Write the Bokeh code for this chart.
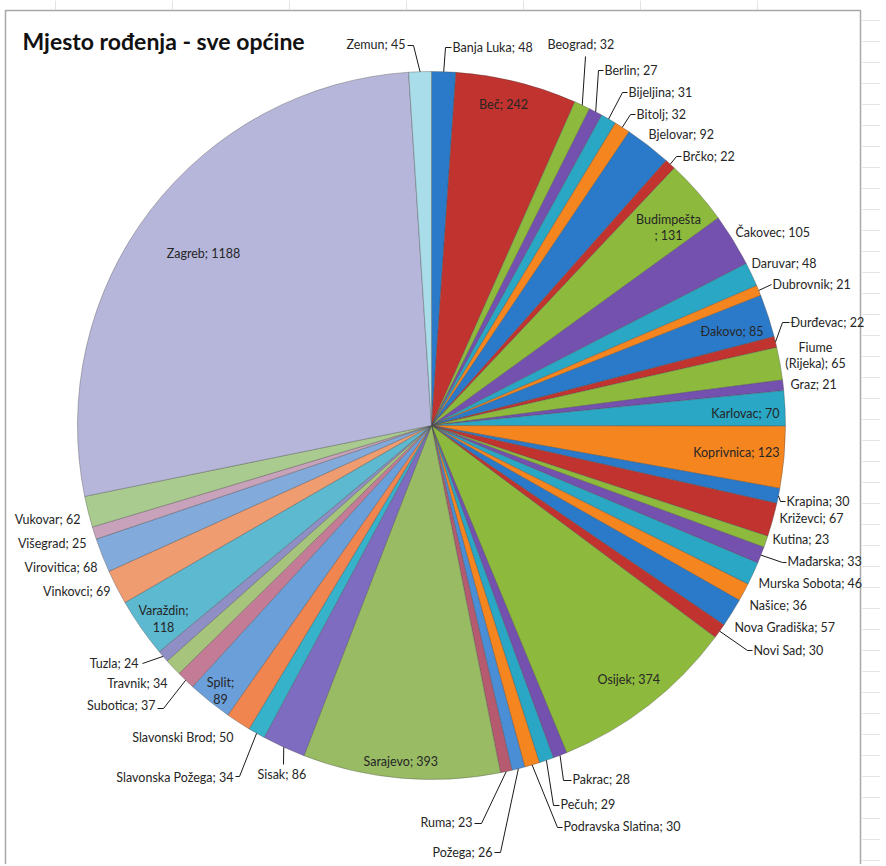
import math
from bokeh.plotting import figure
from bokeh.models import Range1d, ColumnDataSource
from bokeh.core.properties import value
from bokeh.embed import file_html
from bokeh.resources import INLINE

# ---------------- data ----------------
names = ["Banja Luka", "Beč", "Beograd", "Berlin", "Bijeljina", "Bitolj", "Bjelovar",
         "Brčko", "Budimpešta", "Čakovec", "Daruvar", "Dubrovnik", "Đakovo", "Đurđevac",
         "Fiume (Rijeka)", "Graz", "Karlovac", "Koprivnica", "Krapina", "Križevci", "Kutina",
         "Mađarska", "Murska Sobota", "Našice", "Nova Gradiška", "Novi Sad", "Osijek",
         "Pakrac", "Pečuh", "Podravska Slatina", "Požega", "Ruma", "Sarajevo", "Sisak",
         "Slavonska Požega", "Slavonski Brod", "Split", "Subotica", "Travnik", "Tuzla",
         "Varaždin", "Vinkovci", "Virovitica", "Višegrad", "Vukovar", "Zagreb", "Zemun"]
counts = [48, 242, 32, 27, 31, 32, 92,
          22, 131, 105, 48, 21, 85, 22,
          65, 21, 70, 123, 30, 67, 23,
          33, 46, 36, 57, 30, 374,
          28, 29, 30, 26, 23, 393, 86,
          34, 50, 89, 37, 34, 24,
          118, 69, 68, 25, 62, 1188, 45]
title_text = "Mjesto rođenja - sve općine"

# ---------------- styles ----------------
base = ["#2B7AC9", "#C0332F", "#8DBA3C", "#7451AE", "#29A7C5", "#F5851F"]
palette_groups = [
    base, base, base, base, base,
    ["#4A8ED6", "#B65A70", "#98BB64", "#7E6CC0", "#36B2CA", "#F08550"],
    ["#6B9FDA", "#C47C96", "#A7C47C", "#8F8FC6", "#5CB9D0", "#EE9C70"],
    ["#82AADA", "#C7A2BA", "#AACB90", "#B6B6DA", "#A9DDE9", "#F2B48E"],
]
colors = [palette_groups[i // 6][i % 6] for i in range(len(names))]

W, H = 880, 864


def sy(y):
    return H - y


CX, CY, R = 431, sy(425), 354

# label layout: name -> (x, y, align, split, leader points in screen coords)
layout = {
    "Zemun": (405, 44, "right", None, [(413, 45), (407, 45)]),
    "Banja Luka": (452, 47, "left", None, [(445, 47), (451, 47)]),
    "Beč": (503, 104, "center", None, None),
    "Beograd": (547, 44, "left", None, [(585, 56)]),
    "Berlin": (604, 70, "left", None, [(598, 70), (603, 70)]),
    "Bijeljina": (628, 92, "left", None, [(622, 92), (627, 92)]),
    "Bitolj": (636, 114, "left", None, [(630, 114), (635, 114)]),
    "Bjelovar": (648, 134, "left", None, None),
    "Brčko": (682, 156, "left", None, [(676, 156), (681, 156)]),
    "Budimpešta": (668, 219, "center", "name", None),
    "Čakovec": (735, 232, "left", None, None),
    "Daruvar": (751, 263, "left", None, None),
    "Dubrovnik": (772, 284, "left", None, [(771, 284)]),
    "Đakovo": (763, 331, "right", None, None),
    "Đurđevac": (790, 322, "left", None, [(782, 322), (789, 322)]),
    "Fiume (Rijeka)": (815, 347, "center", "space", None),
    "Graz": (790, 384, "left", None, None),
    "Karlovac": (779, 413, "right", None, None),
    "Koprivnica": (779, 452, "right", None, None),
    "Krapina": (786, 501, "left", None, [(780, 501), (785, 501)]),
    "Križevci": (779, 518, "left", None, None),
    "Kutina": (772, 539, "left", None, None),
    "Mađarska": (787, 561, "left", None, [(782, 562), (786, 562)]),
    "Murska Sobota": (758, 583, "left", None, None),
    "Našice": (749, 605, "left", None, None),
    "Nova Gradiška": (734, 627, "left", None, None),
    "Novi Sad": (753, 650, "left", None, [(747, 650), (752, 650)]),
    "Osijek": (597, 679, "left", None, None),
    "Pakrac": (572, 779, "left", None, [(563, 780), (571, 780)]),
    "Pečuh": (560, 804, "left", None, [(553, 805), (559, 805)]),
    "Podravska Slatina": (563, 826, "left", None, [(557, 827), (562, 827)]),
    "Požega": (492, 852, "right", None, [(500, 852), (494, 852)]),
    "Ruma": (472, 822, "right", None, [(481, 823), (474, 823)]),
    "Sarajevo": (363, 761, "left", None, None),
    "Sisak": (257, 774, "left", None, [(283, 764)]),
    "Slavonska Požega": (233, 777, "right", None, [(239, 776), (235, 776)]),
    "Slavonski Brod": (233, 737, "right", None, None),
    "Split": (220, 682, "center", "semi", None),
    "Subotica": (155, 705, "right", None, [(163, 708), (157, 708)]),
    "Travnik": (167, 683, "right", None, None),
    "Tuzla": (138, 663, "right", None, [(142, 663)]),
    "Varaždin": (163, 610, "center", "semi", None),
    "Vinkovci": (110, 591, "right", None, None),
    "Virovitica": (97, 567, "right", None, None),
    "Višegrad": (86, 543, "right", None, None),
    "Vukovar": (80, 519, "right", None, None),
    "Zagreb": (203, 253, "center", None, None),
}


def split_label(full, mode):
    if mode == "name":
        i = full.index(";")
    elif mode == "semi":
        i = full.index(";") + 1
    else:
        i = full.index(" ")
    return [full[:i].strip(), full[i:].strip()]


# ---------------- geometry ----------------
total = float(sum(counts))
starts, ends, mids = [], [], []
cum = 0.0
for v in counts:
    a0 = math.pi / 2 - 2 * math.pi * cum / total
    a1 = math.pi / 2 - 2 * math.pi * (cum + v) / total
    starts.append(a1)
    ends.append(a0)
    mids.append((a0 + a1) / 2)
    cum += v

p = figure(width=W, height=H, output_backend="svg", toolbar_location=None,
           x_range=Range1d(0, W), y_range=Range1d(0, H),
           min_border=0, min_border_left=0, min_border_right=0,
           min_border_top=0, min_border_bottom=0)
p.axis.visible = False
p.grid.visible = False
p.outline_line_color = None
p.background_fill_color = "white"
p.border_fill_color = "white"

# spreadsheet background strip at right/top + chart frame
gy = list(range(20, 866, 21))
p.segment(x0=[862] * len(gy), y0=[sy(y) for y in gy], x1=[W] * len(gy), y1=[sy(y) for y in gy],
          line_color="#e3e3e3", line_width=1)
gx = list(range(55, 860, 117))
p.segment(x0=gx, y0=[sy(0)] * len(gx), x1=gx, y1=[sy(9)] * len(gx),
          line_color="#e3e3e3", line_width=1)
p.quad(left=[5], right=[860], top=[sy(10)], bottom=[sy(880)], fill_color=None,
       line_color="#a8a8a8", line_width=1.5)

src = ColumnDataSource(dict(start=starts, end=ends, color=colors, name=names, count=counts))
p.wedge(x=CX, y=CY, radius=R, start_angle="start", end_angle="end", direction="anticlock",
        fill_color="color", line_color="#4a4a4a", line_alpha=0.45, line_width=0.8, source=src)

# labels
lx, ly, lt, la = [], [], [], []
lead_xs, lead_ys = [], []
for name, v, m in zip(names, counts, mids):
    x, y, align, split, leader = layout[name]
    full = f"{name}; {v}"
    lines = split_label(full, split) if split else [full]
    for k, t in enumerate(lines):
        lx.append(x)
        ly.append(sy(y + 16 * k))
        lt.append(t)
        la.append(align)
    if leader:
        px = CX + R * math.cos(m)
        py = CY + R * math.sin(m)
        xs = [px] + [q[0] for q in leader]
        ys = [py] + [sy(q[1]) for q in leader]
        lead_xs.append(xs)
        lead_ys.append(ys)

p.multi_line(xs=lead_xs, ys=lead_ys, line_color="#1a1a1a", line_width=1)
p.text(x="x", y="y", text="t", text_align="a",
       source=ColumnDataSource(dict(x=lx, y=ly, t=lt, a=la)),
       text_baseline="middle", text_font=value("Lato"), text_font_size="12.5px",
       text_color="#262626")

p.text(x=[22], y=[sy(40)], text=[title_text], text_baseline="middle", text_align="left",
       text_font=value("Lato"), text_font_style="bold", text_font_size="23px",
       text_color="#111111")

open("out.html", "w").write(file_html(p, INLINE))
